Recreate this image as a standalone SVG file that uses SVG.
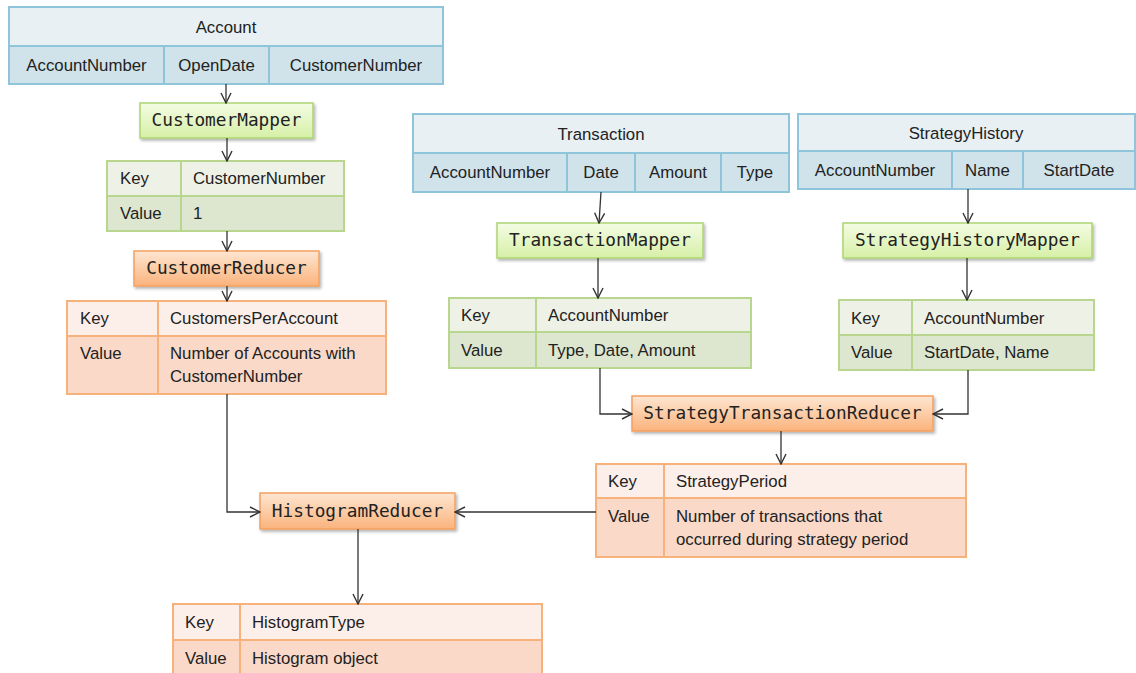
<svg xmlns="http://www.w3.org/2000/svg" width="1136" height="673" viewBox="0 0 1136 673">
<defs>
<linearGradient id="gG" x1="0" y1="0" x2="0" y2="1"><stop offset="0" stop-color="#f4fce4"/><stop offset="1" stop-color="#d6f0a6"/></linearGradient>
<linearGradient id="gO" x1="0" y1="0" x2="0" y2="1"><stop offset="0" stop-color="#fee6d2"/><stop offset="1" stop-color="#fab37c"/></linearGradient>
<filter id="sh" x="-10%" y="-20%" width="120%" height="150%"><feDropShadow dx="1.5" dy="2" stdDeviation="1.5" flood-color="#000" flood-opacity="0.3"/></filter>
<marker id="ar" viewBox="0 0 12 12" refX="11" refY="6" markerWidth="12" markerHeight="12" markerUnits="userSpaceOnUse" orient="auto"><path d="M1,1 L11,6 L1,11" fill="none" stroke="#333" stroke-width="1.4"/></marker>
<style>
.t{font-family:"Liberation Sans",Arial,sans-serif;font-size:16.8px;fill:#222}
.m{font-family:"DejaVu Sans Mono","Liberation Mono",monospace;font-size:17.8px;fill:#222}
.hb{fill:#e8f0f4;stroke:#8ec5da;stroke-width:2}
.fb{fill:#d0e2ea;stroke:#8ec5da;stroke-width:2}
.gk{fill:#eef1e6;stroke:#b9d68e;stroke-width:2}
.gv{fill:#dde6cf;stroke:#b9d68e;stroke-width:2}
.ok{fill:#fcefea;stroke:#f7b27c;stroke-width:2}
.ov{fill:#fad9c8;stroke:#f7b27c;stroke-width:2}
.gm{fill:url(#gG);stroke:#acd573;stroke-width:1.5}
.or{fill:url(#gO);stroke:#f4a060;stroke-width:1.5}
.c{fill:none;stroke:#333;stroke-width:1.3;marker-end:url(#ar)}
</style>
</defs>
<rect width="1136" height="673" fill="#ffffff"/>

<g id="account">
<rect class="hb" x="9" y="7" width="434" height="39"/>
<rect class="fb" x="9" y="46" width="155" height="38"/>
<rect class="fb" x="164" y="46" width="105" height="38"/>
<rect class="fb" x="269" y="46" width="174" height="38"/>
<text class="t" x="226" y="33" text-anchor="middle">Account</text>
<text class="t" x="86.5" y="71" text-anchor="middle">AccountNumber</text>
<text class="t" x="216.5" y="71" text-anchor="middle">OpenDate</text>
<text class="t" x="356" y="71" text-anchor="middle">CustomerNumber</text>
</g>

<g id="customerMapper">
<rect class="gm" x="140" y="103" width="173" height="35" filter="url(#sh)"/>
<text class="m" x="226.5" y="126" text-anchor="middle">CustomerMapper</text>
</g>

<g id="customerMapperOut">
<rect class="gk" x="107" y="161" width="74" height="35"/>
<rect class="gk" x="181" y="161" width="163" height="35"/>
<rect class="gv" x="107" y="196" width="74" height="35"/>
<rect class="gv" x="181" y="196" width="163" height="35"/>
<text class="t" x="120" y="184">Key</text>
<text class="t" x="193" y="184">CustomerNumber</text>
<text class="t" x="120" y="219">Value</text>
<text class="t" x="193" y="219">1</text>
</g>

<g id="customerReducer">
<rect class="or" x="134" y="251" width="185" height="35" filter="url(#sh)"/>
<text class="m" x="226.5" y="274" text-anchor="middle">CustomerReducer</text>
</g>

<g id="customerReducerOut">
<rect class="ok" x="67" y="301" width="91" height="35"/>
<rect class="ok" x="158" y="301" width="228" height="35"/>
<rect class="ov" x="67" y="336" width="91" height="58"/>
<rect class="ov" x="158" y="336" width="228" height="58"/>
<text class="t" x="80" y="324">Key</text>
<text class="t" x="170" y="324">CustomersPerAccount</text>
<text class="t" x="80" y="359">Value</text>
<text class="t" x="170" y="359">Number of Accounts with</text>
<text class="t" x="170" y="382">CustomerNumber</text>
</g>

<g id="transaction">
<rect class="hb" x="413" y="114" width="376" height="39"/>
<rect class="fb" x="413" y="153" width="154" height="39"/>
<rect class="fb" x="567" y="153" width="68" height="39"/>
<rect class="fb" x="635" y="153" width="86" height="39"/>
<rect class="fb" x="721" y="153" width="68" height="39"/>
<text class="t" x="601" y="140" text-anchor="middle">Transaction</text>
<text class="t" x="490" y="178" text-anchor="middle">AccountNumber</text>
<text class="t" x="601" y="178" text-anchor="middle">Date</text>
<text class="t" x="678" y="178" text-anchor="middle">Amount</text>
<text class="t" x="755" y="178" text-anchor="middle">Type</text>
</g>

<g id="transactionMapper">
<rect class="gm" x="497" y="223" width="206" height="35" filter="url(#sh)"/>
<text class="m" x="600" y="246" text-anchor="middle">TransactionMapper</text>
</g>

<g id="transactionMapperOut">
<rect class="gk" x="449" y="298" width="87" height="34"/>
<rect class="gk" x="536" y="298" width="215" height="34"/>
<rect class="gv" x="449" y="332" width="87" height="36"/>
<rect class="gv" x="536" y="332" width="215" height="36"/>
<text class="t" x="461" y="321">Key</text>
<text class="t" x="548" y="321">AccountNumber</text>
<text class="t" x="461" y="356">Value</text>
<text class="t" x="548" y="356">Type, Date, Amount</text>
</g>

<g id="strategyHistory">
<rect class="hb" x="798" y="114" width="337" height="37"/>
<rect class="fb" x="798" y="151" width="154" height="38"/>
<rect class="fb" x="952" y="151" width="71" height="38"/>
<rect class="fb" x="1023" y="151" width="112" height="38"/>
<text class="t" x="966" y="139" text-anchor="middle">StrategyHistory</text>
<text class="t" x="875" y="176" text-anchor="middle">AccountNumber</text>
<text class="t" x="987.5" y="176" text-anchor="middle">Name</text>
<text class="t" x="1079" y="176" text-anchor="middle">StartDate</text>
</g>

<g id="strategyHistoryMapper">
<rect class="gm" x="843" y="223" width="249" height="35" filter="url(#sh)"/>
<text class="m" x="967.5" y="246" text-anchor="middle">StrategyHistoryMapper</text>
</g>

<g id="strategyHistoryMapperOut">
<rect class="gk" x="839" y="300" width="73" height="35"/>
<rect class="gk" x="912" y="300" width="182" height="35"/>
<rect class="gv" x="839" y="335" width="73" height="35"/>
<rect class="gv" x="912" y="335" width="182" height="35"/>
<text class="t" x="851" y="324">Key</text>
<text class="t" x="924" y="324">AccountNumber</text>
<text class="t" x="851" y="358">Value</text>
<text class="t" x="924" y="358">StartDate, Name</text>
</g>

<g id="strategyTransactionReducer">
<rect class="or" x="632" y="396" width="301" height="35" filter="url(#sh)"/>
<text class="m" x="782.5" y="419" text-anchor="middle">StrategyTransactionReducer</text>
</g>

<g id="strategyTransactionReducerOut">
<rect class="ok" x="596" y="464" width="68" height="34"/>
<rect class="ok" x="664" y="464" width="302" height="34"/>
<rect class="ov" x="596" y="498" width="68" height="59"/>
<rect class="ov" x="664" y="498" width="302" height="59"/>
<text class="t" x="608" y="487">Key</text>
<text class="t" x="676" y="487">StrategyPeriod</text>
<text class="t" x="608" y="522">Value</text>
<text class="t" x="676" y="522">Number of transactions that</text>
<text class="t" x="676" y="545">occurred during strategy period</text>
</g>

<g id="histogramReducer">
<rect class="or" x="260" y="493" width="195" height="36" filter="url(#sh)"/>
<text class="m" x="357.5" y="517" text-anchor="middle">HistogramReducer</text>
</g>

<g id="histogramReducerOut">
<rect class="ok" x="173" y="604" width="67" height="36"/>
<rect class="ok" x="240" y="604" width="302" height="36"/>
<rect class="ov" x="173" y="640" width="67" height="40"/>
<rect class="ov" x="240" y="640" width="302" height="40"/>
<text class="t" x="185" y="628">Key</text>
<text class="t" x="252" y="628">HistogramType</text>
<text class="t" x="185" y="664">Value</text>
<text class="t" x="252" y="664">Histogram object</text>
</g>

<g id="connectors">
<path class="c" d="M226,84 L226,103"/>
<path class="c" d="M227,138 L227,161"/>
<path class="c" d="M227,231 L227,251"/>
<path class="c" d="M227,286 L227,301"/>
<path class="c" d="M227,394 L227,512 L260,512"/>
<path class="c" d="M601,192 L599,223"/>
<path class="c" d="M598,258 L598,298"/>
<path class="c" d="M968,189 L968,223"/>
<path class="c" d="M967,258 L967,300"/>
<path class="c" d="M600,368 L600,414 L632,414"/>
<path class="c" d="M968,370 L968,414 L933,414"/>
<path class="c" d="M781,431 L781,464"/>
<path class="c" d="M596,512 L455,512"/>
<path class="c" d="M358,529 L358,604"/>
</g>
</svg>
